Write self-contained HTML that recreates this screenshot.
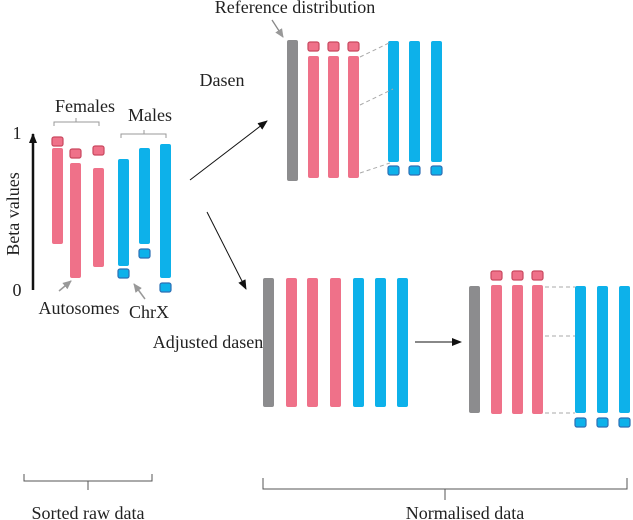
<!DOCTYPE html>
<html><head><meta charset="utf-8"><style>
html,body{margin:0;padding:0;background:#fff;}
svg{display:block;}
text{fill:#222;font-size:18px;font-family:"Liberation Serif",serif;}
</style></head><body>
<svg width="633" height="520" viewBox="0 0 633 520">
<defs>
<marker id="ah" markerUnits="userSpaceOnUse" markerWidth="10" markerHeight="10" refX="9" refY="5" orient="auto"><path d="M0,1 L10,5 L0,9 z" fill="#111"/></marker>
<marker id="ag" markerUnits="userSpaceOnUse" markerWidth="9" markerHeight="9" refX="8" refY="4.5" orient="auto"><path d="M0,0.5 L9,4.5 L0,8.5 z" fill="#999"/></marker>
</defs>
</svg>
<script>
const P='#ef7189',PS='#c9485f',B='#0db1ea',BS='#2d6fb4',G='#8c8c8e';
const ns='http://www.w3.org/2000/svg';
const svg=document.querySelector('svg');
function mk(tag,attrs,name,parent){const e=document.createElementNS(ns,tag);for(const k in attrs)e.setAttribute(k,attrs[k]);


(parent||svg).appendChild(e);return e;}
function bar(x,y1,y2,c,name){return mk('rect',{x:x,y:y1,width:11,height:y2-y1,rx:2,fill:c},name);}
function cap(x,y,c,s,name){return mk('rect',{x:x,y:y,width:11,height:9,rx:2,fill:c,stroke:s,'stroke-width':1.2},name);}
function txt(x,y,s,name,anchor,extra){const t=mk('text',Object.assign({x:x,y:y,'text-anchor':anchor||'start'},extra||{}),name);t.textContent=s;return t;}
function line(x1,y1,x2,y2,st,name){return mk('line',Object.assign({x1,y1,x2,y2},st),name);}
const dash={stroke:'#aaa','stroke-width':1,'stroke-dasharray':'4,3'};
line(33,290,33,134,{stroke:'#111','stroke-width':2.5,'marker-end':'url(#ah)'},'beta-axis');
txt(17,139,'1','axis-max-label','middle');txt(17,296,'0','axis-min-label','middle');
txt(14,214,'Beta values','y-axis-title','middle',{transform:'rotate(-90 14 214)',dy:'5'});
const fem=[[52,148,244,137],[70,163,278,149],[93,168,267,146]];
fem.forEach((f,i)=>{bar(f[0],f[1],f[2],P,'female-autosome-bar-'+(i+1));cap(f[0],f[3],P,PS,'female-chrx-'+(i+1));});
const mal=[[118,159,266,269],[139,148,244,249],[160,144,278,283]];
mal.forEach((m,i)=>{bar(m[0],m[1],m[2],B,'male-autosome-bar-'+(i+1));cap(m[0],m[3],B,BS,'male-chrx-'+(i+1));});
txt(85,112,'Females','females-label','middle');
mk('path',{d:'M54,126 V122 H99 V126 M76,122 V118',fill:'none',stroke:'#999','stroke-width':1},'females-bracket');
txt(150,121,'Males','males-label','middle');
mk('path',{d:'M121,138 V134 H166 V138 M144,134 V130',fill:'none',stroke:'#999','stroke-width':1},'males-bracket');
txt(79,314,'Autosomes','autosomes-label','middle');
txt(149,318,'ChrX','chrx-label','middle');
line(59,291,71,281,{stroke:'#999','stroke-width':1.5,'marker-end':'url(#ag)'},'autosomes-pointer');
line(145,299,134,284,{stroke:'#999','stroke-width':1.5,'marker-end':'url(#ag)'},'chrx-pointer');
line(190,180,267,121,{stroke:'#111','stroke-width':1,'marker-end':'url(#ah)'},'arrow-to-dasen');
line(207,212,246,289,{stroke:'#111','stroke-width':1,'marker-end':'url(#ah)'},'arrow-to-adjusted');
txt(295,13,'Reference distribution','reference-label','middle');
line(272,20,283,37,{stroke:'#888','stroke-width':1.3,'marker-end':'url(#ag)'},'reference-pointer');
txt(222,86,'Dasen','dasen-label','middle');
bar(287,40,181,G,'dasen-reference-bar');
[308,328,348].forEach((x,i)=>{cap(x,42,P,PS,'dasen-female-chrx-'+(i+1));bar(x,56,178,P,'dasen-female-bar-'+(i+1));});
[388,409,431].forEach((x,i)=>{bar(x,41,162,B,'dasen-male-bar-'+(i+1));cap(x,166,B,BS,'dasen-male-chrx-'+(i+1));});
line(360,57,389,43,dash,'dasen-map-top');line(360,105,393,89,dash,'dasen-map-mid');line(360,173,390,163,dash,'dasen-map-bottom');
txt(208,348,'Adjusted dasen','adjusted-dasen-label','middle');
bar(263,278,407,G,'adj-reference-bar');
[286,307,330].forEach((x,i)=>bar(x,278,407,P,'adj-female-bar-'+(i+1)));
[353,375,397].forEach((x,i)=>bar(x,278,407,B,'adj-male-bar-'+(i+1)));
line(415,342,461,342,{stroke:'#111','stroke-width':1,'marker-end':'url(#ah)'},'adjusted-arrow');
bar(469,286,413,G,'final-reference-bar');
[491,512,532].forEach((x,i)=>{cap(x,271,P,PS,'final-female-chrx-'+(i+1));bar(x,285,414,P,'final-female-bar-'+(i+1));});
[575,597,619].forEach((x,i)=>{bar(x,286,413,B,'final-male-bar-'+(i+1));cap(x,418,B,BS,'final-male-chrx-'+(i+1));});
line(545,287,575,287,dash,'final-map-top');line(545,336,575,336,dash,'final-map-mid');line(545,413,575,413,dash,'final-map-bottom');
mk('path',{d:'M24,474 V481 H152 V474 M88,481 V490',fill:'none',stroke:'#555','stroke-width':1},'raw-brace');
txt(88,519,'Sorted raw data','sorted-raw-label','middle');
mk('path',{d:'M263,478 V489 H627 V478 M445,489 V500',fill:'none',stroke:'#555','stroke-width':1},'normalised-brace');
txt(465,519,'Normalised data','normalised-label','middle');
</script>
</body></html>
